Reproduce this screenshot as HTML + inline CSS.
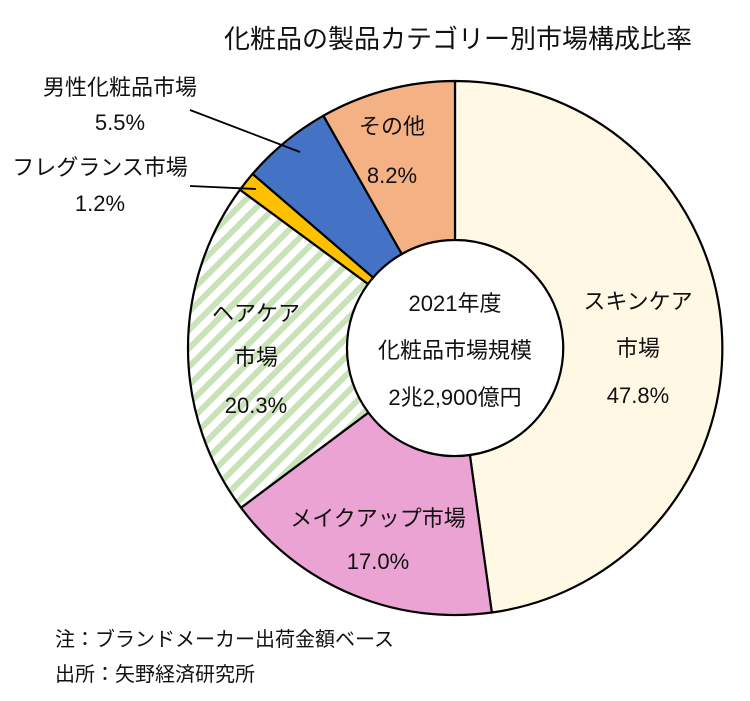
<!DOCTYPE html>
<html><head><meta charset="utf-8"><style>
body{margin:0;background:#fff;}
svg text{font-family:"Liberation Sans","Noto Sans CJK JP",sans-serif;fill:#111;}
</style></head><body>
<svg width="750" height="696" viewBox="0 0 750 696" xmlns="http://www.w3.org/2000/svg">
<defs>
<pattern id="st" patternUnits="userSpaceOnUse" width="13" height="13" patternTransform="rotate(-45)">
<rect width="13" height="13" fill="#fff"/><rect width="13" height="6" fill="#C9E3B8"/>
</pattern>
</defs>
<rect width="750" height="696" fill="#fff"/>
<text x="458" y="48" font-size="26" text-anchor="middle">化粧品の製品カテゴリー別市場構成比率</text>
<g stroke="#000" stroke-width="2.2" stroke-linejoin="round">
<path d="M455,81 A267,267 0 0 1 491.8,612.5 L469.9,455 A108,108 0 0 0 455,240 Z" fill="#FFF8E5"/>
<path d="M491.8,612.5 A267,267 0 0 1 241,507.7 L368.4,412.6 A108,108 0 0 0 469.9,455 Z" fill="#EAA3D3"/>
<path d="M241,507.7 A267,267 0 0 1 240,189.7 L368,284 A108,108 0 0 0 368.4,412.6 Z" fill="url(#st)"/>
<path d="M240,189.7 A267,267 0 0 1 252.6,173.9 L373.1,277.6 A108,108 0 0 0 368,284 Z" fill="#FFC000"/>
<path d="M252.6,173.9 A267,267 0 0 1 323.4,115.7 L401.8,254 A108,108 0 0 0 373.1,277.6 Z" fill="#4472C4"/>
<path d="M323.4,115.7 A267,267 0 0 1 455,81 L455,240 A108,108 0 0 0 401.8,254 Z" fill="#F4B183"/>
</g>
<line x1="190" y1="110" x2="300" y2="152" stroke="#000" stroke-width="1.8"/>
<line x1="190" y1="186" x2="256" y2="189" stroke="#000" stroke-width="1.8"/>
<g font-size="22" text-anchor="middle">
<text x="120" y="95">男性化粧品市場</text>
<text x="120" y="130">5.5%</text>
<text x="100" y="175">フレグランス市場</text>
<text x="100" y="211">1.2%</text>
<text x="392" y="134">その他</text>
<text x="392" y="183">8.2%</text>
<text x="638" y="309">スキンケア</text>
<text x="638" y="356">市場</text>
<text x="638" y="403">47.8%</text>
<text x="256" y="321">ヘアケア</text>
<text x="256" y="365">市場</text>
<text x="256" y="413">20.3%</text>
<text x="378" y="526">メイクアップ市場</text>
<text x="378" y="569">17.0%</text>
<text x="455" y="311">2021年度</text>
<text x="455" y="358">化粧品市場規模</text>
<text x="455" y="405">2兆2,900億円</text>
</g>
<g font-size="20">
<text x="55" y="646">注：ブランドメーカー出荷金額ベース</text>
<text x="55" y="681">出所：矢野経済研究所</text>
</g>
</svg>
</body></html>
